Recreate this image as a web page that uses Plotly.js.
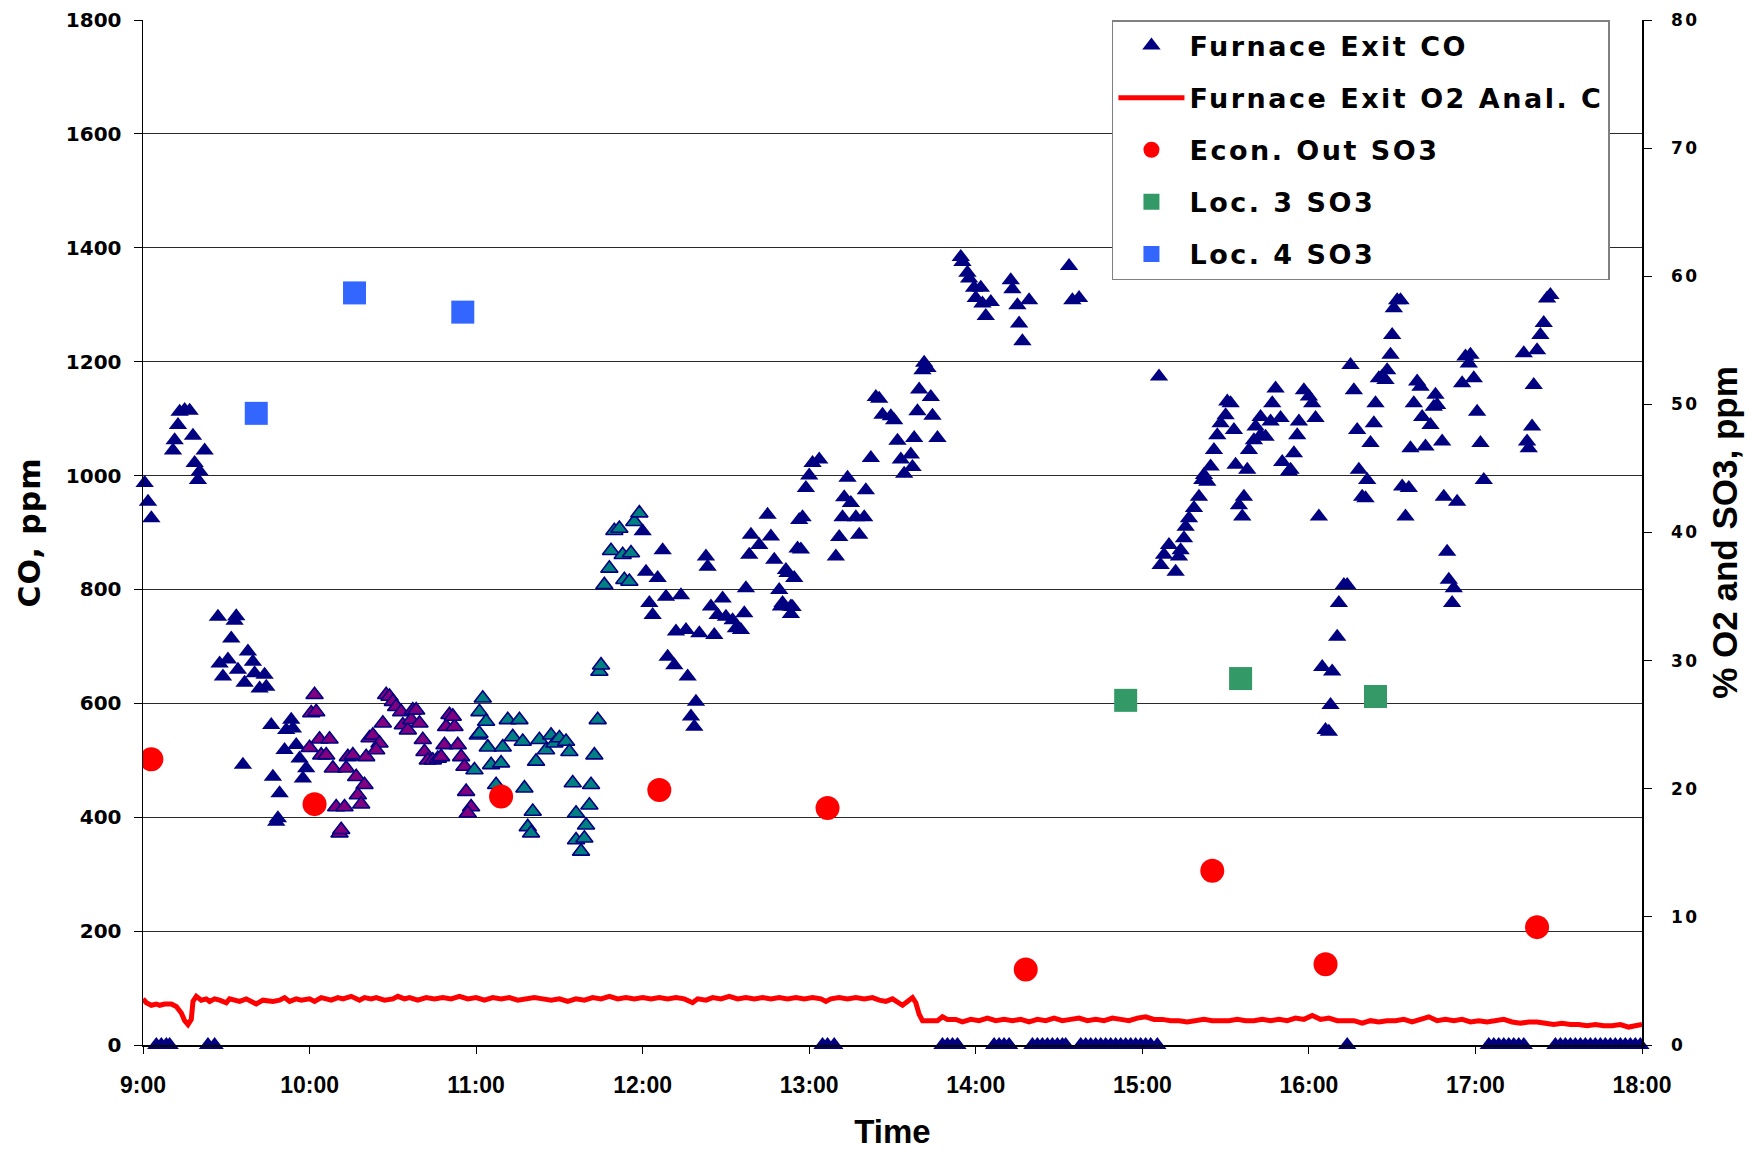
<!DOCTYPE html>
<html>
<head>
<meta charset="utf-8">
<script src="https://cdn.plot.ly/plotly-3.0.1.min.js"></script>
<style>
html,body{margin:0;padding:0;background:#fff;}
#chart{width:1753px;height:1150px;}
text.legendtext{letter-spacing:2.5px;}
g.y2tick text{letter-spacing:2.5px;}
text.ytitle{letter-spacing:1px;}
</style>
</head>
<body>
<div id="chart"></div>
<script>
// Time in decimal hours
const xTickVals = [9, 10, 11, 12, 13, 14, 15, 16, 17, 18];
const xTickText = ["9:00", "10:00", "11:00", "12:00", "13:00", "14:00", "15:00", "16:00", "17:00", "18:00"];

// Furnace Exit CO (navy triangles)
const coTime = [
  9.01,9.03,9.05,9.18,9.19,9.21,9.22,9.25,9.28,9.30,9.31,9.33,9.34,9.37,
  9.45,9.55,9.56,9.53,9.46,9.51,9.48,9.57,9.63,9.66,9.61,9.67,9.73,9.70,9.74,9.60,9.77,9.89,9.86,9.90,9.85,9.92,9.94,9.98,9.96,9.78,9.82,9.80,9.81,
  12.00,12.12,12.02,12.09,12.04,12.06,12.14,12.23,12.15,12.19,12.27,12.32,12.29,12.31,12.20,12.26,12.34,12.43,12.38,12.39,12.41,12.48,12.45,12.50,12.54,12.56,12.59,12.61,12.62,12.65,12.70,12.75,12.77,12.64,12.79,12.82,12.86,12.83,12.89,12.91,12.93,12.94,
  12.87,12.84,12.90,12.89,12.95,12.96,12.98,13.00,13.02,13.06,13.16,13.18,13.20,13.21,13.23,13.25,13.30,13.28,13.33,13.34,13.37,13.40,13.42,13.44,13.49,13.51,13.53,13.55,13.57,13.61,13.62,13.63,13.65,13.66,13.73,13.69,13.68,13.71,13.74,13.77,
  13.91,13.92,13.95,13.96,13.99,14.03,14.00,14.04,14.09,14.06,14.21,14.22,14.32,14.25,14.26,14.28,14.56,14.58,14.62,
  15.10,15.11,15.16,15.20,15.13,15.22,15.23,15.25,15.26,15.28,15.31,15.34,15.36,15.39,15.37,15.41,15.43,15.45,15.47,15.50,
  15.51,15.53,15.55,15.56,15.63,15.61,15.58,15.60,15.64,15.67,15.68,15.71,15.71,15.74,15.77,15.83,15.78,15.80,15.84,15.88,
  15.89,15.91,15.93,15.94,15.97,16.00,16.02,16.04,16.06,16.08,16.14,16.10,16.12,16.13,16.17,16.18,16.21,16.23,16.25,16.27,
  16.29,16.30,16.35,16.32,16.34,16.37,16.39,16.40,16.42,16.46,16.44,16.47,16.49,16.50,16.51,16.53,16.55,16.58,16.56,16.60,
  16.61,16.70,16.80,16.63,16.68,16.73,16.65,16.67,16.76,16.77,16.75,16.81,16.89,16.83,16.84,16.87,16.86,16.92,16.96,16.94,
  16.97,16.99,17.01,17.03,17.05,17.29,17.31,17.32,17.34,17.35,17.37,17.39,17.41,17.43,17.45
];
const coPpm = [
  987,954,925,1044,1062,1089,1112,1115,1114,1070,1022,992,1007,1044,
  752,745,753,714,670,677,647,659,691,673,636,653,650,626,629,492,562,571,553,556,518,527,503,486,468,471,442,392,398,
  902,869,831,820,776,755,787,790,682,667,647,603,577,559,726,729,723,720,858,840,770,784,755,752,746,732,729,758,802,896,878,931,893,861,852,799,834,770,770,820,872,922,
  829,776,769,757,870,927,978,1000,1022,1028,858,892,927,962,996,952,896,927,927,974,1031,1138,1135,1107,1104,1097,1061,1028,1003,1037,1015,1066,1113,1151,1138,1198,1185,1189,1105,1066,
  1384,1375,1356,1346,1330,1330,1312,1302,1305,1280,1343,1327,1308,1299,1267,1236,1368,1308,1312,
  1174,843,878,831,861,858,869,890,910,925,943,963,992,989,1001,1016,1045,1071,1092,1106,
  1130,1127,1080,1019,1010,963,948,928,1045,1062,1086,1103,1071,1068,1095,1101,1127,1153,1024,1007,
  1010,1039,1071,1095,1150,1139,1127,1101,928,664,656,553,550,597,717,776,808,808,1194,1150,
  1080,1010,992,963,960,1057,1092,1127,1171,1168,1174,1185,1212,1247,1294,1308,1308,928,981,978,
  1048,1051,1060,1127,1103,1089,1165,1156,1142,1124,1121,963,954,866,817,802,776,1162,1197,1209,
  1212,1171,1112,1057,992,1215,1060,1048,1086,1159,1220,1247,1268,1311,1317
];
// CO readings at zero
const coZeroTime = [
  9.08,9.11,9.14,9.16,9.39,9.43,13.08,13.11,13.15,13.80,13.83,13.86,13.89,14.11,14.14,14.17,14.20,
  14.34,14.37,14.40,14.43,14.46,14.49,14.52,14.54,
  14.63,14.66,14.69,14.72,14.75,14.78,14.81,14.84,14.87,14.90,14.93,14.96,14.99,15.02,15.05,15.09,
  16.23,17.08,17.11,17.14,17.17,17.20,17.23,17.26,17.29,
  17.48,17.51,17.54,17.57,17.60,17.63,17.66,17.69,17.72,17.75,17.78,17.81,17.84,17.87,17.90,17.93,17.96,17.99
];
const coZeroPpm = [
  0,0,0,0,0,0,0,0,0,0,0,0,0,0,0,0,0,
  0,0,0,0,0,0,0,0,
  0,0,0,0,0,0,0,0,0,0,0,0,0,0,0,0,
  0,0,0,0,0,0,0,0,0,
  0,0,0,0,0,0,0,0,0,0,0,0,0,0,0,0,0,0
];
// CO points drawn with purple fill
const coPurpleTime = [10.03,10.01,10.04,10.00,10.06,10.12,10.07,10.10,10.14,10.16,10.21,10.18,10.19,10.23,10.26,10.22,10.28,10.33,10.29,10.31,10.34,10.36,10.38,10.42,10.40,10.44,10.46,10.48,10.50,10.52,10.55,10.56,10.59,10.61,10.62,10.64,10.66,10.68,10.69,10.71,10.74,10.77,10.79,10.81,10.82,10.87,10.84,10.86,10.89,10.91,10.93,10.94,10.97,10.95];
const coPurplePpm = [615,583,585,522,537,537,509,509,486,418,418,372,378,506,509,486,471,457,439,423,506,539,544,530,518,565,615,612,603,594,585,562,553,571,588,588,565,536,515,500,500,503,506,527,559,559,580,577,527,506,489,445,418,407];
// CO points drawn with teal fill
const coTealTime = [10.99,11.01,11.02,11.02,11.04,11.06,11.07,11.09,11.12,11.15,11.16,11.19,11.22,11.26,11.28,11.29,11.31,11.33,11.34,11.36,11.38,11.42,11.45,11.47,11.50,11.54,11.56,11.58,11.60,11.60,11.63,11.65,11.66,11.68,11.69,11.71,11.73,11.74,11.75,11.77,11.80,11.81,11.83,11.86,11.88,11.89,11.92,11.93,11.95,11.98];
const coTealPpm = [483,544,547,585,609,568,523,492,457,495,523,571,541,571,533,451,383,372,410,498,536,518,544,530,539,533,515,460,407,360,340,363,386,421,457,509,571,656,667,808,837,868,903,907,861,817,814,864,919,934];

// Furnace Exit O2 (%), right axis
const o2Time = [9.00,9.02,9.05,9.08,9.10,9.13,9.17,9.20,9.23,9.25,9.27,9.29,9.30,9.32,9.35,9.38,9.40,9.43,9.46,9.50,9.52,9.55,9.58,9.62,9.65,9.68,9.72,9.75,9.78,9.82,9.85,9.88,9.92,9.95,
  10.00,10.03,10.07,10.10,10.13,10.17,10.20,10.25,10.30,10.33,10.37,10.40,10.45,10.50,10.53,10.57,10.60,10.65,10.70,10.75,10.80,10.85,10.90,10.95,
  11.00,11.05,11.10,11.15,11.20,11.25,11.30,11.35,11.40,11.45,11.50,11.55,11.60,11.65,11.70,11.75,11.80,11.85,11.90,11.95,
  12.00,12.05,12.10,12.15,12.20,12.25,12.30,12.33,12.38,12.42,12.47,12.52,12.57,12.62,12.67,12.72,12.77,12.82,12.87,12.92,12.97,
  13.02,13.07,13.10,13.13,13.18,13.23,13.28,13.33,13.38,13.42,13.46,13.50,13.53,13.56,13.59,13.62,13.64,13.66,13.68,13.72,13.77,13.80,13.83,13.88,13.92,13.97,
  14.02,14.07,14.12,14.17,14.22,14.27,14.32,14.37,14.42,14.47,14.52,14.57,14.62,14.67,14.72,14.77,14.82,14.87,14.92,14.97,
  15.02,15.07,15.12,15.17,15.22,15.27,15.32,15.37,15.42,15.47,15.52,15.57,15.62,15.67,15.72,15.77,15.82,15.87,15.92,15.97,
  16.02,16.07,16.12,16.17,16.22,16.27,16.32,16.37,16.42,16.47,16.52,16.57,16.62,16.67,16.72,16.77,16.82,16.87,16.92,16.97,
  17.02,17.07,17.12,17.17,17.22,17.27,17.32,17.37,17.42,17.47,17.52,17.57,17.62,17.67,17.72,17.77,17.82,17.87,17.92,17.97,18.00];
const o2Pct = [3.6,3.3,3.1,3.2,3.1,3.2,3.2,3.0,2.5,1.9,1.6,2.0,3.4,3.8,3.5,3.6,3.4,3.6,3.5,3.3,3.6,3.5,3.4,3.6,3.4,3.2,3.5,3.4,3.4,3.5,3.7,3.4,3.6,3.5,
  3.6,3.4,3.7,3.6,3.5,3.7,3.6,3.8,3.5,3.7,3.6,3.7,3.5,3.6,3.8,3.6,3.7,3.5,3.7,3.6,3.7,3.6,3.8,3.6,
  3.7,3.5,3.7,3.6,3.7,3.5,3.6,3.7,3.6,3.5,3.6,3.4,3.6,3.5,3.7,3.6,3.8,3.6,3.7,3.6,
  3.7,3.6,3.7,3.6,3.7,3.6,3.3,3.6,3.5,3.7,3.6,3.8,3.6,3.7,3.6,3.7,3.6,3.7,3.6,3.7,3.6,
  3.7,3.6,3.4,3.6,3.7,3.6,3.7,3.6,3.7,3.5,3.4,3.6,3.3,3.1,3.4,3.7,3.3,2.4,1.9,1.9,1.9,2.2,2.0,2.0,1.8,2.0,
  1.9,2.1,1.9,2.0,1.9,2.0,1.8,2.0,1.9,2.1,1.9,2.0,2.1,1.9,2.0,1.9,2.1,2.0,1.9,2.1,
  2.2,2.0,2.0,1.9,1.9,1.8,1.9,2.0,1.9,1.9,1.9,2.0,1.9,1.9,2.0,1.9,2.0,1.9,2.1,2.0,
  2.3,2.0,2.1,1.9,1.9,1.9,1.7,1.9,1.8,1.9,1.9,2.0,1.8,2.0,2.2,1.9,2.0,1.9,2.0,1.8,
  1.9,1.8,1.9,2.0,1.8,1.7,1.8,1.8,1.7,1.6,1.7,1.6,1.6,1.5,1.6,1.5,1.5,1.6,1.4,1.5,1.6];

// SO3 samples (ppm), right axis
const econTime = [9.05, 10.03, 11.15, 12.10, 13.11, 14.30, 15.42, 16.10, 17.37];
const econSO3 = [22.3, 18.8, 19.4, 19.9, 18.5, 5.9, 13.6, 6.3, 9.2];
const loc3Time = [14.90, 15.59, 16.40];
const loc3SO3 = [26.9, 28.6, 27.2];
const loc4Time = [9.68, 10.27, 10.92];
const loc4SO3 = [49.3, 58.7, 57.2];

const NAVY = '#000080';
const traces = [
  {x: coTime.concat(coZeroTime), y: coPpm.concat(coZeroPpm), type: 'scatter', mode: 'markers',
   name: 'Furnace Exit CO', legendgroup: 'co', cliponaxis: false,
   marker: {symbol: 'triangle-up', size: 16, color: NAVY, line: {width: 0}}},
  {x: coPurpleTime, y: coPurplePpm, type: 'scatter', mode: 'markers', showlegend: false,
   legendgroup: 'co', cliponaxis: false,
   marker: {symbol: 'triangle-up', size: 15, color: '#800080', line: {width: 1.6, color: NAVY}}},
  {x: coTealTime, y: coTealPpm, type: 'scatter', mode: 'markers', showlegend: false,
   legendgroup: 'co', cliponaxis: false,
   marker: {symbol: 'triangle-up', size: 15, color: '#008080', line: {width: 1.6, color: NAVY}}},
  {x: o2Time, y: o2Pct, yaxis: 'y2', type: 'scatter', mode: 'lines', name: 'Furnace Exit O2 Anal. C',
   legendgroup: 'o2', line: {color: '#FF0000', width: 5}},
  {x: econTime, y: econSO3, yaxis: 'y2', type: 'scatter', mode: 'markers', name: 'Econ. Out SO3',
   legendgroup: 'econ', marker: {symbol: 'circle', size: 24, color: '#FF0000'}},
  {x: loc3Time, y: loc3SO3, yaxis: 'y2', type: 'scatter', mode: 'markers', name: 'Loc. 3 SO3',
   legendgroup: 'loc3', marker: {symbol: 'square', size: 23, color: '#339966'}},
  {x: loc4Time, y: loc4SO3, yaxis: 'y2', type: 'scatter', mode: 'markers', name: 'Loc. 4 SO3',
   legendgroup: 'loc4', marker: {symbol: 'square', size: 23, color: '#3366FF'}}
];

const layout = {
  width: 1753, height: 1150,
  margin: {l: 143, r: 111, t: 20, b: 105},
  paper_bgcolor: '#fff', plot_bgcolor: '#fff',
  showlegend: true,
  xaxis: {
    range: [9, 18], tickmode: 'array', tickvals: xTickVals, ticktext: xTickText,
    ticks: 'outside', ticklen: 7, tickwidth: 1, tickcolor: '#000',
    showline: true, linecolor: '#000', linewidth: 1.5, showgrid: false, zeroline: false,
    ticklabelstandoff: 12,
    tickfont: {family: 'Liberation Sans Narrow, Arial Narrow, Liberation Sans, sans-serif', size: 23, color: '#000', weight: 'bold'},
    title: {text: 'Time', standoff: 29, font: {family: 'Liberation Sans, Arial, sans-serif', size: 33, color: '#000', weight: 'bold'}}
  },
  yaxis: {
    range: [0, 1800], dtick: 200, tick0: 0,
    ticks: 'outside', ticklen: 8, tickwidth: 1, tickcolor: '#000',
    showline: true, linecolor: '#000', linewidth: 1.5,
    showgrid: true, gridcolor: '#2a2a2a', gridwidth: 1, zeroline: false,
    ticklabelstandoff: 8,
    tickfont: {family: 'DejaVu Sans, Liberation Sans, sans-serif', size: 20, color: '#000', weight: 'bold'},
    title: {text: 'CO, ppm', standoff: 16, font: {family: 'DejaVu Sans, sans-serif', size: 30, color: '#000', weight: 'bold'}}
  },
  yaxis2: {
    range: [0, 80], dtick: 10, tick0: 0, overlaying: 'y', side: 'right',
    ticks: 'outside', ticklen: 8, tickwidth: 1, tickcolor: '#000',
    showline: true, linecolor: '#000', linewidth: 1.5, showgrid: false, zeroline: false,
    ticklabelstandoff: 16,
    tickfont: {family: 'DejaVu Sans, sans-serif', size: 17, color: '#000', weight: 'bold'},
    title: {text: '% O2 and SO3, ppm', standoff: 14, font: {family: 'Liberation Sans Narrow, Arial Narrow, Liberation Sans, sans-serif', size: 35, color: '#000', weight: 'bold'}}
  },
  legend: {
    x: 0.6464, y: 1, xanchor: 'left', yanchor: 'top',
    bgcolor: '#fff', bordercolor: '#808080', borderwidth: 1.5,
    font: {family: 'DejaVu Sans, sans-serif', size: 27, color: '#000', weight: 'bold'},
    itemwidth: 66, tracegroupgap: 14, traceorder: 'grouped'
  }
};

Plotly.newPlot('chart', traces, layout, {displayModeBar: false, staticPlot: true});
</script>
</body>
</html>
